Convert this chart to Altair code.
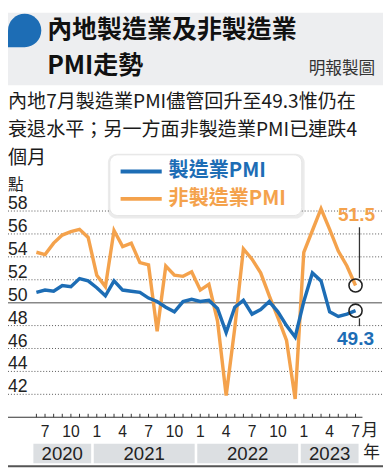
import altair as alt
import pandas as pd

# ---------------- data ----------------
start_period = "2020-06"
end_period = "2023-07"
mfg_pmi = [50.9, 51.1, 51.0, 51.5, 51.4, 52.1, 51.9,
           51.3, 50.6, 51.9, 51.1, 51.0, 50.9, 50.4, 50.1, 49.6, 49.2, 50.1, 50.3,
           50.1, 50.2, 49.5, 47.4, 49.6, 50.2, 49.0, 49.4, 50.1, 49.2, 48.0, 47.0,
           50.1, 52.6, 51.9, 49.2, 48.8, 49.0, 49.3]
non_mfg_pmi = [54.4, 54.2, 55.2, 55.9, 56.2, 56.4, 55.7,
               52.4, 51.4, 56.3, 54.9, 55.2, 53.5, 53.3, 47.5, 53.2, 52.4, 52.3, 52.7,
               51.1, 51.6, 48.4, 41.9, 47.8, 54.7, 53.8, 52.6, 50.6, 48.7, 46.7, 41.6,
               54.4, 56.3, 58.2, 56.4, 54.5, 53.2, 51.5]
series_names = ["製造業PMI", "非製造業PMI"]
y_ticks = [42, 44, 46, 48, 50, 52, 54, 56, 58]
tick_months = [1, 4, 7, 10]
years = [2020, 2021, 2022, 2023]
title_lines = ["內地製造業及非製造業", "PMI走勢"]
credit = "明報製圖"
subtitle_lines = ["內地7月製造業PMI儘管回升至49.3惟仍在",
                  "衰退水平；另一方面非製造業PMI已連跌4",
                  "個月"]

# ---------------- styles ----------------
BLUE = "#1d6db5"
ORANGE = "#f4a24c"
CJK = "Noto Sans CJK TC"
NUM = "Liberation Sans"
W, H = 382, 234

periods = pd.period_range(start_period, end_period, freq="M")
idx = [(p.year - 2020) * 12 + (p.month - 1) for p in periods]

df = pd.DataFrame({
    "i": idx * 2,
    "v": mfg_pmi + non_mfg_pmi,
    "s": [series_names[0]] * len(idx) + [series_names[1]] * len(idx),
})

xs = alt.Scale(domain=[1.708, 45.07], nice=False, zero=False)
ys = alt.Scale(domain=[40, 60], nice=False, zero=False)
X = lambda f: alt.X(f, type="quantitative", scale=xs, axis=None)
Y = lambda f: alt.Y(f, type="quantitative", scale=ys, axis=None)

one = pd.DataFrame({"a": [0]})

# header
header_bg = alt.Chart(one).mark_rect(color="#edeef0").encode(
    x=alt.value(0), x2=alt.value(383), y=alt.value(-179), y2=alt.value(-105))
bubble_path = "M -1 1 L -1 0 A 1 1 0 0 1 0 -1 A 1 1 0 0 1 1 0 A 1 1 0 0 1 0 1 Z"
bubble = alt.Chart(one).mark_point(shape=bubble_path, filled=True, size=1156,
                                   color=BLUE, opacity=1).encode(
    x=alt.value(17), y=alt.value(-161))
title = alt.Chart(pd.DataFrame({"t": ["\n".join(title_lines)]})).mark_text(
    font=CJK, fontSize=25.5, fontWeight="bold", align="left", baseline="alphabetic",
    lineBreak="\n", lineHeight=37, color="#111").encode(
    x=alt.value(40), y=alt.value(-153.3), text="t:N")
cr = alt.Chart(pd.DataFrame({"t": [credit]})).mark_text(
    font=CJK, fontSize=17, align="right", baseline="alphabetic",
    color="#333").encode(x=alt.value(375), y=alt.value(-116.5), text="t:N")
sub = alt.Chart(pd.DataFrame({"t": ["\n".join(subtitle_lines)]})).mark_text(
    font=CJK, fontSize=19.5, align="left", baseline="alphabetic", lineBreak="\n",
    lineHeight=28.5, color="#1a1a1a").encode(x=alt.value(0), y=alt.value(-81.6), text="t:N")
unit = alt.Chart(pd.DataFrame({"t": ["點"]})).mark_text(
    font=CJK, fontSize=16, align="left", baseline="middle",
    color="#222").encode(x=alt.value(0), y=alt.value(-3), text="t:N")

# grid
gdf = pd.DataFrame({"v": [v for v in y_ticks if v != 50]})
grid = alt.Chart(gdf).mark_rule(color="#555", strokeDash=[1, 2], strokeWidth=1).encode(
    y=Y("v"), x=alt.value(0), x2=alt.value(W))
mid = alt.Chart(pd.DataFrame({"v": [50]})).mark_rule(color="#888", strokeWidth=1.5).encode(
    y=Y("v"), x=alt.value(0), x2=alt.value(W))
ylab = alt.Chart(pd.DataFrame({"v": y_ticks})).mark_text(
    font=NUM, fontSize=18, align="left", baseline="alphabetic", dy=-2,
    color="#222").encode(y=Y("v"), x=alt.value(0), text="v:N")

# x axis
axis_line = alt.Chart(one).mark_rule(color="#333", strokeWidth=1.2).encode(
    x=alt.value(0), x2=alt.value(362), y=alt.value(H))
ticks = alt.Chart(pd.DataFrame({"i": idx})).mark_rule(color="#333", strokeWidth=1).encode(
    x=X("i"), y=alt.value(H - 3.5), y2=alt.value(H))
tl = [(i, str(p.month)) for i, p in zip(idx, periods) if p.month in tick_months]
tlab = alt.Chart(pd.DataFrame({"i": [a for a, b in tl], "t": [b for a, b in tl]})).mark_text(
    font=NUM, fontSize=16, baseline="middle", color="#222").encode(
    x=X("i"), y=alt.value(H + 15), text="t:N")
ydf = pd.DataFrame({
    "y": [str(y) for y in years],
    "s": [max(idx[0], (y - 2020) * 12) - 0.5 + 0.15 for y in years],
    "e": [min(idx[-1], (y - 2020) * 12 + 11) + 0.5 - 0.15 for y in years],
})
ydf["c"] = (ydf["s"] + ydf["e"]) / 2
ybar = alt.Chart(ydf).mark_rect(color="#dcdfe2").encode(
    x=X("s"), x2="e:Q", y=alt.value(H + 27), y2=alt.value(H + 47))
ytxt = alt.Chart(ydf).mark_text(font=NUM, fontSize=19, baseline="middle", color="#222").encode(
    x=X("c"), y=alt.value(H + 37.5), text="y:N")
unit_m = alt.Chart(pd.DataFrame({"i": [idx[-1]], "t": ["月"]})).mark_text(
    font=CJK, fontSize=17, align="left", baseline="middle", dx=6, color="#222").encode(
    x=X("i"), y=alt.value(H + 14), text="t:N")
unit_y = alt.Chart(pd.DataFrame({"i": [idx[-1]], "t": ["年"]})).mark_text(
    font=CJK, fontSize=17, align="left", baseline="middle", dx=8, color="#222").encode(
    x=X("i"), y=alt.value(H + 37), text="t:N")
bottom = alt.Chart(one).mark_rule(color="#555", strokeWidth=2).encode(
    x=alt.value(0), x2=alt.value(383), y=alt.value(H + 50))

# lines
color = alt.Color("s:N", scale=alt.Scale(domain=series_names, range=[BLUE, ORANGE]), legend=None)
line_o = alt.Chart(df[df.s == series_names[1]]).mark_line(strokeWidth=3.5).encode(
    x=X("i"), y=Y("v"), color=color)
line_b = alt.Chart(df[df.s == series_names[0]]).mark_line(strokeWidth=3.5).encode(
    x=X("i"), y=Y("v"), color=color)

# legend box
shadow = alt.Chart(one).mark_rect(color="#000", opacity=0.08, cornerRadius=9).encode(
    x=alt.value(102), x2=alt.value(303), y=alt.value(-35), y2=alt.value(31))
box = alt.Chart(one).mark_rect(color="white", cornerRadius=8, stroke="#e4e4e4", strokeWidth=1).encode(
    x=alt.value(104), x2=alt.value(300), y=alt.value(-34), y2=alt.value(28))
leg = pd.DataFrame({"s": series_names, "y": [-17, 11]})
leg_line = alt.Chart(leg).mark_rule(strokeWidth=4).encode(
    x=alt.value(115), x2=alt.value(157), y=alt.Y("y:Q", scale=None, axis=None), color=color)
leg_txt = alt.Chart(leg).mark_text(font=CJK, fontSize=20.5, fontWeight="bold", align="left",
                                   baseline="middle").encode(
    x=alt.value(164), y=alt.Y("y:Q", scale=None, axis=None), text="s:N", color=color)

# annotations
last = df[df.i == idx[-1]].copy()
circ = alt.Chart(last).mark_point(shape="circle", size=180, filled=False, stroke="#222",
                                  strokeWidth=1.6, opacity=1).encode(x=X("i"), y=Y("v"))
lead_o = alt.Chart(last[last.s == series_names[1]]).mark_rule(color="#333", strokeWidth=1.3, xOffset=4).encode(
    x=X("i"), y=alt.value(40), y2=alt.value(92))
lead_b = alt.Chart(last[last.s == series_names[0]]).mark_rule(color="#333", strokeWidth=1.3, xOffset=4).encode(
    x=X("i"), y=alt.value(133), y2=alt.value(141))
lab_o = alt.Chart(last[last.s == series_names[1]]).mark_text(
    font=NUM, fontSize=19.5, fontWeight="bold", baseline="middle", dx=1, dy=-71.5).encode(
    x=X("i"), y=Y("v"), text=alt.Text("v:Q", format=".1f"), color=color)
lab_b = alt.Chart(last[last.s == series_names[0]]).mark_text(
    font=NUM, fontSize=19.5, fontWeight="bold", baseline="middle", dx=0, dy=29).encode(
    x=X("i"), y=Y("v"), text=alt.Text("v:Q", format=".1f"), color=color)

chart = alt.layer(
    header_bg, bubble, title, cr, sub, unit,
    grid, mid, ylab,
    axis_line, ticks, tlab, ybar, ytxt, unit_m, unit_y, bottom,
    line_o, line_b,
    shadow, box, leg_line, leg_txt,
    circ, lead_o, lead_b, lab_o, lab_b,
).properties(
    width=W, height=H,
    padding={"left": 0, "top": 179, "right": 1, "bottom": 52},
    autosize=alt.AutoSizeParams(type="none"),
    background="white",
).configure_view(stroke=None)

chart.save("out.html", embed_options={"renderer": "svg", "actions": False})
